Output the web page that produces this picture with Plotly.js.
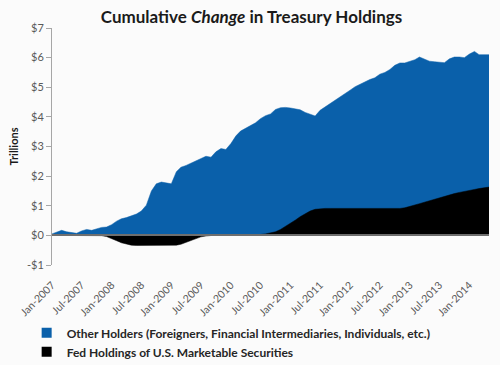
<!DOCTYPE html>
<html>
<head>
<meta charset="utf-8">
<script src="https://cdn.plot.ly/plotly-3.0.1.min.js"></script>
<style>
  html, body { margin: 0; padding: 0; background: #fbfbfb; }
  #chart { width: 500px; height: 365px; }
</style>
</head>
<body>
<div id="chart"></div>
<script>
// Monthly observation dates
var months = [
  "2007-01","2007-02","2007-03","2007-04","2007-05","2007-06","2007-07","2007-08","2007-09","2007-10","2007-11","2007-12",
  "2008-01","2008-02","2008-03","2008-04","2008-05","2008-06","2008-07","2008-08","2008-09","2008-10","2008-11","2008-12",
  "2009-01","2009-02","2009-03","2009-04","2009-05","2009-06","2009-07","2009-08","2009-09","2009-10","2009-11","2009-12",
  "2010-01","2010-02","2010-03","2010-04","2010-05","2010-06","2010-07","2010-08","2010-09","2010-10","2010-11","2010-12",
  "2011-01","2011-02","2011-03","2011-04","2011-05","2011-06","2011-07","2011-08","2011-09","2011-10","2011-11","2011-12",
  "2012-01","2012-02","2012-03","2012-04","2012-05","2012-06","2012-07","2012-08","2012-09","2012-10","2012-11","2012-12",
  "2013-01","2013-02","2013-03","2013-04","2013-05","2013-06","2013-07","2013-08","2013-09","2013-10","2013-11","2013-12",
  "2014-01","2014-02","2014-03","2014-04","2014-05"
];

// Cumulative change, trillions of dollars
var otherHolders = [
  0.05,0.12,0.17,0.12,0.09,0.07,0.15,0.20,0.17,0.22,0.27,0.28,
  0.36,0.48,0.56,0.60,0.66,0.72,0.82,1.02,1.50,1.74,1.80,1.77,
  1.74,2.15,2.30,2.36,2.44,2.52,2.60,2.67,2.64,2.82,2.93,2.90,
  3.10,3.36,3.52,3.62,3.70,3.80,3.94,4.04,4.10,4.25,4.31,4.32,
  4.30,4.28,4.24,4.15,4.08,4.03,4.22,4.33,4.45,4.55,4.68,4.78,
  4.90,5.02,5.10,5.20,5.26,5.32,5.44,5.50,5.60,5.74,5.82,5.82,
  5.88,5.93,6.02,5.95,5.88,5.86,5.84,5.83,5.96,6.02,6.02,6.00,
  6.12,6.21,6.10,6.10,6.10
];

var fedHoldings = [
  0,0,0,0,0,0,0,0,0,0,-0.01,-0.04,
  -0.10,-0.18,-0.25,-0.30,-0.33,-0.34,-0.34,-0.34,-0.34,-0.34,-0.34,-0.34,
  -0.34,-0.33,-0.30,-0.24,-0.17,-0.10,-0.05,-0.02,0.00,0.01,0.01,0.01,
  0.01,0.01,0.01,0.01,0.02,0.02,0.03,0.05,0.08,0.12,0.20,0.30,
  0.42,0.52,0.63,0.73,0.82,0.88,0.90,0.91,0.91,0.91,0.91,0.91,
  0.91,0.91,0.90,0.90,0.90,0.90,0.90,0.90,0.90,0.90,0.91,0.93,
  0.97,1.02,1.07,1.12,1.17,1.22,1.27,1.32,1.37,1.41,1.45,1.49,
  1.52,1.55,1.58,1.61,1.63
];

var seriesNames = [
  "Other Holders (Foreigners, Financial Intermediaries, Individuals, etc.)",
  "Fed Holdings of U.S. Marketable Securities"
];
var yTickVals = [-1,0,1,2,3,4,5,6,7];
var yTickText = ["-$1","$0","$1","$2","$3","$4","$5","$6","$7"];

var blue = "#0a60aa";
var black = "#000000";

var traces = [
  {x: months, y: otherHolders, type: "scatter", mode: "lines", fill: "tozeroy",
   fillcolor: blue, line: {color: blue, width: 0.5}, showlegend: false, hoverinfo: "skip"},
  {x: months, y: fedHoldings, type: "scatter", mode: "lines", fill: "tozeroy",
   fillcolor: black, line: {color: black, width: 0.5}, showlegend: false, hoverinfo: "skip"},
  {x: [null], y: [null], type: "scatter", mode: "markers", name: seriesNames[0],
   marker: {symbol: "square", size: 10, color: blue}},
  {x: [null], y: [null], type: "scatter", mode: "markers", name: seriesNames[1],
   marker: {symbol: "square", size: 10, color: black}}
];

var layout = {
  width: 500, height: 365,
  paper_bgcolor: "#fbfbfb", plot_bgcolor: "#fbfbfb",
  margin: {l: 52, r: 11, t: 28, b: 100, autoexpand: false},
  font: {family: "Lato, 'Open Sans', sans-serif", color: "#595959"},
  title: {
    text: "Cumulative <i>Change</i> in Treasury Holdings",
    font: {size: 17, color: "#1a1a1a", weight: "bold"},
    x: 0.503, xanchor: "center", xref: "container",
    y: 0.953, yanchor: "middle", yref: "container"
  },
  xaxis: {
    type: "date",
    range: [months[0] + "-01", months[months.length - 1] + "-01"],
    dtick: "M6", tick0: "2007-01-01",
    tickformat: "%b-%Y", tickangle: -45,
    tickfont: {size: 10.5, color: "#595959"},
    showgrid: false, zeroline: false, showline: false,
    ticks: "outside", ticklen: 9, tickcolor: "rgba(0,0,0,0)",
    automargin: false, fixedrange: true
  },
  yaxis: {
    range: [-1, 7],
    tickvals: yTickVals, ticktext: yTickText,
    tickfont: {size: 11, color: "#595959"},
    ticks: "outside", ticklen: 5, tickcolor: "#a6a6a6",
    showline: true, linecolor: "#a6a6a6", linewidth: 1,
    showgrid: false,
    zeroline: true, zerolinecolor: "#6e6e6e", zerolinewidth: 2,
    zerolinelayer: "above traces",
    title: {text: "Trillions", font: {size: 11, color: "#1a1a1a", weight: "bold"}, standoff: 6},
    automargin: false, fixedrange: true
  },
  showlegend: true,
  legend: {
    x: -0.058, xanchor: "left", y: -0.225, yanchor: "top",
    orientation: "v", bgcolor: "rgba(0,0,0,0)",
    font: {size: 12, color: "#262626", weight: "bold"},
    itemwidth: 30, tracegroupgap: 0
  }
};

Plotly.newPlot("chart", traces, layout, {displayModeBar: false, staticPlot: true});
</script>
</body>
</html>
